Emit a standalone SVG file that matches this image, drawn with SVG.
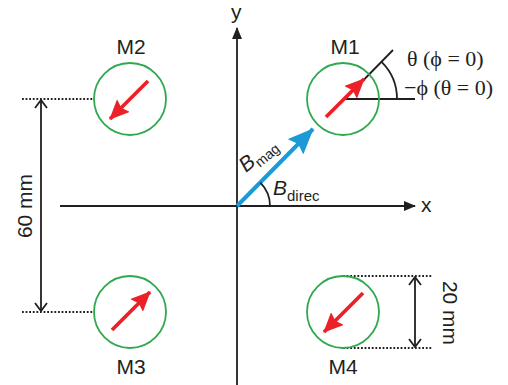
<svg xmlns="http://www.w3.org/2000/svg" width="508" height="385" viewBox="0 0 508 385">
<style>
.mag{fill:none;stroke:#2fa84f;stroke-width:1.8}
.red{stroke:#ec2027;stroke-width:3.8;fill:none}
.ax{stroke:#231f20;stroke-width:1.8;fill:none}
.dot{stroke:#231f20;stroke-width:1.8;stroke-dasharray:1.8 1.8;fill:none}
.lbl{font-family:"Liberation Sans",Arial,sans-serif;font-size:21px;fill:#231f20}
.ser{font-family:"Liberation Serif","Times New Roman",serif;font-size:22px;fill:#231f20}
</style>
<defs>
<marker id="ah" markerWidth="12" markerHeight="10" refX="11" refY="5" orient="auto" markerUnits="userSpaceOnUse"><path d="M0,0 L12,5 L0,10 Z" fill="#231f20"/></marker>
<marker id="rh" markerWidth="20" markerHeight="18" refX="19" refY="9" orient="auto" markerUnits="userSpaceOnUse"><path d="M0,0 L20,9 L0,18 L3,9 Z" fill="#ec2027"/></marker>
<marker id="bh" markerWidth="26" markerHeight="22" refX="25" refY="11" orient="auto" markerUnits="userSpaceOnUse"><path d="M0,0 L26,11 L0,22 L4,11 Z" fill="#1b9ad7"/></marker>
<marker id="ch" markerWidth="10" markerHeight="14" refX="9" refY="7" orient="auto-start-reverse" markerUnits="userSpaceOnUse"><path d="M1,1 L9,7 L1,13" fill="none" stroke="#231f20" stroke-width="1.8"/></marker>
</defs>
<g id="connectors">
<line class="ax" x1="60" y1="206" x2="415" y2="206" marker-end="url(#ah)"/>
<line class="ax" x1="237" y1="385" x2="237" y2="28" marker-end="url(#ah)"/>
<line x1="237" y1="206" x2="313" y2="129" stroke="#1b9ad7" stroke-width="4" marker-end="url(#bh)"/>
<path class="ax" d="M270,206 A33,33 0 0 0 260.3,182.7"/>
<line class="dot" x1="22" y1="99" x2="94" y2="99"/>
<line class="dot" x1="22" y1="312" x2="94" y2="312"/>
<line class="ax" x1="41" y1="100" x2="41" y2="311" marker-start="url(#ch)" marker-end="url(#ch)"/>
<line class="dot" x1="343" y1="276" x2="432" y2="276"/>
<line class="dot" x1="343" y1="348" x2="432" y2="348"/>
<line class="ax" x1="415" y1="277" x2="415" y2="347" marker-start="url(#ch)" marker-end="url(#ch)"/>
<line class="ax" x1="345" y1="99" x2="415" y2="99"/>
<line class="ax" x1="345" y1="99" x2="393" y2="50"/>
<path class="ax" d="M397,99 A52,52 0 0 0 381.8,62.2"/>
</g>
<g id="M1">
<circle class="mag" cx="343" cy="99" r="36"/>
<line class="red" x1="326" y1="117" x2="364" y2="79" marker-end="url(#rh)"/>
<text class="lbl" x="345" y="54" text-anchor="middle">M1</text>
</g>
<g id="M2">
<circle class="mag" cx="130" cy="99" r="36"/>
<line class="red" x1="148" y1="81" x2="110" y2="119" marker-end="url(#rh)"/>
<text class="lbl" x="131" y="54" text-anchor="middle">M2</text>
</g>
<g id="M3">
<circle class="mag" cx="130" cy="312" r="36"/>
<line class="red" x1="112" y1="330" x2="150" y2="292" marker-end="url(#rh)"/>
<text class="lbl" x="131" y="374" text-anchor="middle">M3</text>
</g>
<g id="M4">
<circle class="mag" cx="343" cy="312" r="36"/>
<line class="red" x1="363" y1="293" x2="324" y2="332" marker-end="url(#rh)"/>
<text class="lbl" x="343" y="374" text-anchor="middle">M4</text>
</g>
<g id="labels">
<text class="lbl" x="421" y="212">x</text>
<text class="lbl" x="231" y="19" font-size="20">y</text>
<text class="lbl" transform="translate(246,173) rotate(-40)" font-size="25" font-style="italic">B<tspan font-size="14" dy="5" font-style="normal">mag</tspan></text>
<text class="lbl" x="273" y="195" font-size="22" font-style="italic">B<tspan font-size="15" dy="6" font-style="normal">direc</tspan></text>
<text class="ser" x="407" y="66">θ (ϕ = 0)</text>
<text class="ser" x="404" y="95">−ϕ (θ = 0)</text>
<text class="lbl" transform="translate(32,206) rotate(-90)" text-anchor="middle">60 mm</text>
<text class="lbl" transform="translate(443,313) rotate(90)" text-anchor="middle">20 mm</text>
</g>
</svg>
